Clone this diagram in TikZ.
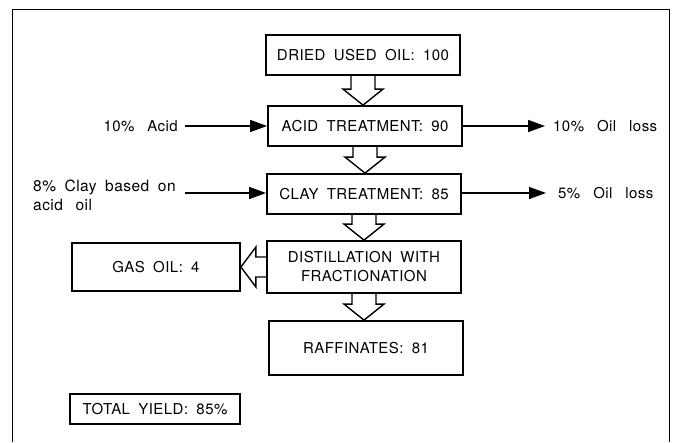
\documentclass[tikz,border=0pt]{standalone}
\usepackage{fontspec}
\setmainfont{TeX Gyre Heros}[LetterSpace=3,WordSpace=1.8]
\newfontfamily\sidefont{TeX Gyre Heros}[LetterSpace=3,WordSpace=2.8]
\usetikzlibrary{arrows.meta,calc}

% hollow block arrows between two boxes
\newcommand{\hollowdown}[2]{%
  \draw[hollow] let \p1=(#1.south), \p2=(#2.north) in
    (\x1-12pt,\y1) -- (\x1-12pt,\y2+16pt) -- (\x1-20pt,\y2+16pt) -- (\x1,\y2)
    -- (\x1+20pt,\y2+16pt) -- (\x1+12pt,\y2+16pt) -- (\x1+12pt,\y1);}
\newcommand{\hollowleft}[2]{%
  \draw[hollow] let \p1=(#1.west), \p2=(#2.east) in
    (\x1,\y1+10pt) -- (\x2+15pt,\y1+10pt) -- (\x2+15pt,\y1+20pt) -- (\x2,\y1)
    -- (\x2+15pt,\y1-20pt) -- (\x2+15pt,\y1-10pt) -- (\x1,\y1-10pt);}

\begin{document}
\begin{tikzpicture}[x=1pt,y=-1pt,
  box/.style={draw,line width=1.8pt,inner sep=0pt,align=center,
    font=\fontsize{15}{19}\selectfont},
  txt/.style={inner sep=0pt,align=left,font=\sidefont\fontsize{15}{19}\selectfont},
  flow/.style={line width=1.5pt,-{Triangle[length=17pt,width=12pt]}},
  hollow/.style={line width=1.4pt,line join=miter}]
  \useasboundingbox (0,0) rectangle (683,442);
  \draw[line width=1pt] (12,442) -- (12,9) -- (669,9) -- (669,442);

  % main line
  \node[box,minimum width=194pt,minimum height=40pt] (dried) at (363,55) {DRIED USED OIL: 100};
  \node[box,minimum width=194pt,minimum height=40pt] (acid) at (365,126) {ACID TREATMENT: 90};
  \node[box,minimum width=194pt,minimum height=40pt] (clay) at (364,194) {CLAY TREATMENT: 85};
  \node[box,minimum width=194pt,minimum height=52pt] (dist) at (364,267) {DISTILLATION WITH\\FRACTIONATION};
  \node[box,minimum width=194pt,minimum height=54pt] (raff) at (366,348) {RAFFINATES: 81};
  \node[box,minimum width=168pt,minimum height=48pt] (gasoil) at (156,267) {GAS OIL: 4};
  \node[box,minimum width=170pt,minimum height=30pt] (yield) at (155,409) {TOTAL YIELD: 85\%};

  % inputs and losses
  \node[txt,anchor=east] (acidin) at (178,126) {10\% Acid};
  \node[txt,anchor=west] (acidloss) at (553,126) {10\% Oil loss};
  \node[txt,anchor=north west,font=\fontsize{15.5}{19}\selectfont] (clayin) at (33,180)
    {8\% Clay based on\\acid\hspace{4pt} oil};
  \coordinate (claystart) at (185,193);
  \node[txt,anchor=west] (clayloss) at (558,193) {5\% Oil loss};

  \draw[flow,shorten <=7pt] (acidin) -- (acid);
  \draw[flow] (acid) -- ([xshift=-8pt]acidloss.west);
  \draw[flow] (claystart) -- (clay.west|-claystart);
  \draw[flow] (clay.east|-claystart) -- ([xshift=-12pt]clayloss.west);

  \hollowdown{dried}{acid}
  \hollowdown{acid}{clay}
  \hollowdown{clay}{dist}
  \hollowdown{dist}{raff}
  \hollowleft{dist}{gasoil}
\end{tikzpicture}
\end{document}
